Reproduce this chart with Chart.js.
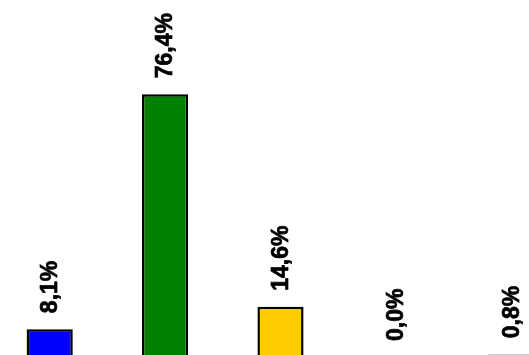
<!DOCTYPE html>
<html>
<head>
<meta charset="utf-8">
<script src="https://cdn.jsdelivr.net/npm/chart.js@4"></script>
<style>
    html, body { margin: 0; padding: 0; overflow: hidden; background: #fff; }
    body { width: 529px; height: 355px; position: relative; font-family: Arial, "Liberation Sans", sans-serif; }
    #wrap { position: absolute; left: -8px; top: 0; width: 577px; height: 357px; }
</style>
</head>
<body>
<div id="wrap"><canvas id="BarChart"></canvas></div>
<script>
// categorie (non visibili nel grafico)
const categories = ['Cat. 1', 'Cat. 2', 'Cat. 3', 'Cat. 4', 'Cat. 5'];
// valori in percentuale
const values = [8.1, 76.4, 14.6, 0.0, 0.8];
// etichette sopra le barre
const valueLabels = ['8,1%', '76,4%', '14,6%', '0,0%', '0,8%'];
const barColors = ['#0000FF', '#008000', '#FFCC00', '#999999', '#B4B4B4'];

// Etichette ruotate sopra ogni barra
const rotatedLabels = {
    id: 'rotatedLabels',
    afterDatasetsDraw(chart) {
        const ctx = chart.ctx;
        const meta = chart.getDatasetMeta(0);
        ctx.save();
        ctx.font = 'bold 23px Arial, "Liberation Sans", sans-serif';
        ctx.fillStyle = '#000';
        ctx.strokeStyle = '#000';
        ctx.lineWidth = 0.7;
        ctx.textAlign = 'left';
        ctx.textBaseline = 'middle';
        meta.data.forEach(function(bar, i) {
            ctx.save();
            ctx.translate(bar.x, bar.y - 16);
            ctx.rotate(-Math.PI / 2);
            ctx.fillText(valueLabels[i], 0, 1);
            ctx.strokeText(valueLabels[i], 0, 1);
            ctx.restore();
        });
        ctx.restore();
    }
};

document.addEventListener('DOMContentLoaded', function() {
const barCtx = document.getElementById('BarChart').getContext('2d');
const barChart = new Chart(barCtx, {
    type: 'bar',
    data: {
        labels: categories,
        datasets: [{
            data: values,
            backgroundColor: barColors,
            borderColor: '#000',
            borderWidth: [2.5, 2.5, 2.5, 0, 0],
            categoryPercentage: 1,
            barPercentage: 0.4
        }]
    },
    options: {
        responsive: true,
        maintainAspectRatio: false,
        animation: false,
        devicePixelRatio: 1,
        layout: { padding: 0 },
        plugins: {
            legend: { display: false },
            tooltip: { enabled: false }
        },
        scales: {
            x: { display: false },
            y: { display: false, min: 0, max: 103.8 }
        }
    },
    plugins: [rotatedLabels]
})
});
</script>
</body>
</html>
